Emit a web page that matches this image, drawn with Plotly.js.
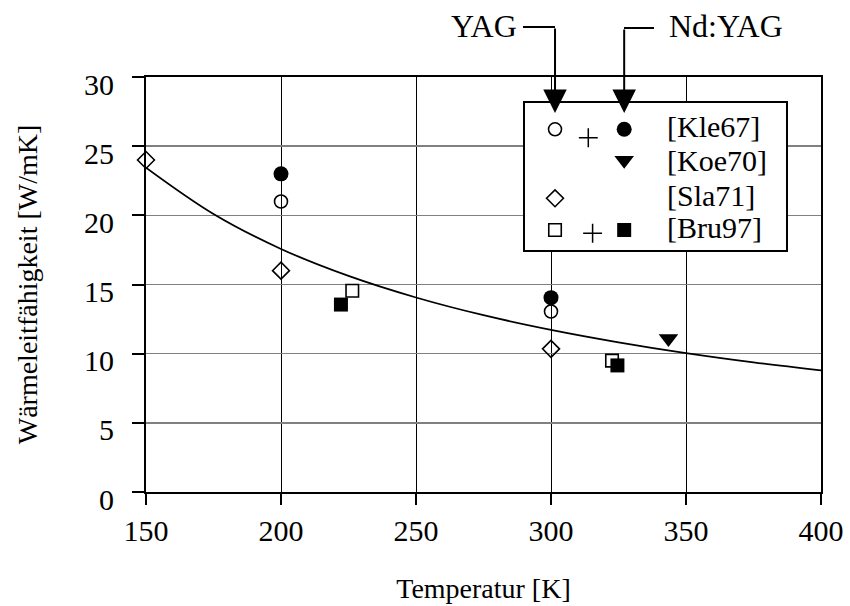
<!DOCTYPE html>
<html>
<head>
<meta charset="utf-8">
<script src="https://cdn.plot.ly/plotly-3.0.1.min.js"></script>
<style>html,body{margin:0;padding:0;background:#fff;}#chart{width:850px;height:606px;}</style>
</head>
<body>
<div id="chart"></div>
<script>
// ---- data ----
const kle67YagT = [200, 300];
const kle67YagK = [21.0, 13.05];
const kle67NdT = [200, 300];
const kle67NdK = [23.0, 14.05];
const koe70NdT = [343.5];
const koe70NdK = [11.1];
const sla71YagT = [150, 200, 300];
const sla71YagK = [24.0, 16.0, 10.35];
const bru97YagT = [226.4, 322.6];
const bru97YagK = [14.55, 9.5];
const bru97NdT = [222.2, 324.6];
const bru97NdK = [13.55, 9.15];
const fitT = [150, 175, 200, 225, 250, 275, 300, 325, 350, 375, 400];
const fitK = [23.45, 20.1, 17.57, 15.62, 14.06, 12.78, 11.72, 10.82, 10.04, 9.37, 8.79];

const xTicks = [150, 200, 250, 300, 350, 400];
const yTicks = [0, 5, 10, 15, 20, 25, 30];

const legendLabels = ['[Kle67]', '[Koe70]', '[Sla71]', '[Bru97]'];

// legend layout (box units 0..1)
const legColOpen = 0.115, legColFilled = 0.38, legColText = 0.536;
const legRowMarker = [0.821, 0.61, 0.352, 0.136];
const legRowText = [0.837, 0.612, 0.374, 0.156];
const legPlusX = [0.2425, 0.259];
const legPlusY = [0.764, 0.114];

const FONT = '"Liberation Serif", "Times New Roman", serif';
const BLK = '#000';

const traces = [
  {x: fitT, y: fitK, mode: 'lines', line: {color: BLK, width: 1.8, shape: 'spline'}, hoverinfo: 'skip'},
  {x: sla71YagT, y: sla71YagK, mode: 'markers', cliponaxis: false,
   marker: {symbol: 'diamond-open', size: 13, color: BLK, opacity: 1, line: {width: 1.6, color: BLK}}},
  {x: kle67YagT, y: kle67YagK, mode: 'markers', cliponaxis: false,
   marker: {symbol: 'circle-open', size: 13, color: BLK, opacity: 1, line: {width: 1.6, color: BLK}}},
  {x: kle67NdT, y: kle67NdK, mode: 'markers', cliponaxis: false,
   marker: {symbol: 'circle', size: 15, color: BLK, opacity: 1, line: {width: 0}}},
  {x: koe70NdT, y: koe70NdK, mode: 'markers', cliponaxis: false,
   marker: {symbol: 'triangle-down', size: 17, color: BLK, opacity: 1, line: {width: 0}}},
  {x: bru97YagT, y: bru97YagK, mode: 'markers', cliponaxis: false,
   marker: {symbol: 'square', size: 12.5, color: '#fff', opacity: 1, line: {width: 1.6, color: BLK}}},
  {x: bru97NdT, y: bru97NdK, mode: 'markers', cliponaxis: false,
   marker: {symbol: 'square', size: 14, color: BLK, opacity: 1, line: {width: 0}}},
  // legend symbols (inset box)
  {x: [legColOpen, legColOpen, legColOpen], y: [legRowMarker[0], legRowMarker[2], legRowMarker[3]],
   xaxis: 'x2', yaxis: 'y2', mode: 'markers', cliponaxis: false,
   marker: {symbol: ['circle-open', 'diamond-open', 'square-open'], size: [13, 13, 12.5], color: BLK,
            opacity: 1, line: {width: 1.6, color: BLK}}},
  {x: [legColFilled, legColFilled, legColFilled], y: [legRowMarker[0], legRowMarker[1], legRowMarker[3]],
   xaxis: 'x2', yaxis: 'y2', mode: 'markers', cliponaxis: false,
   marker: {symbol: ['circle', 'triangle-down', 'square'], size: [15, 17, 14], color: BLK,
            opacity: 1, line: {width: 0}}},
  {x: legPlusX, y: legPlusY, xaxis: 'x2', yaxis: 'y2', mode: 'markers', cliponaxis: false,
   marker: {symbol: 'cross-thin-open', size: 13.5, color: BLK, opacity: 1, line: {width: 1.5, color: BLK}}}
];

const annotations = legendLabels.map((t, i) => ({
  xref: 'x2', yref: 'y2', x: legColText, y: legRowText[i], text: t, showarrow: false,
  xanchor: 'left', yanchor: 'middle', font: {family: FONT, size: 30, color: BLK}
}));

// YAG / Nd:YAG labels with elbow arrows
const pxX = p => (p - 146) / 675;
const pxY = p => (492 - p) / 415;
annotations.push(
  {xref: 'paper', yref: 'paper', x: pxX(519), y: pxY(25.5), text: 'YAG', showarrow: false,
   xanchor: 'right', yanchor: 'middle', font: {family: FONT, size: 32, color: BLK}},
  {xref: 'paper', yref: 'paper', x: pxX(667), y: pxY(26.5), text: 'Nd:YAG', showarrow: false,
   xanchor: 'left', yanchor: 'middle', font: {family: FONT, size: 32, color: BLK}},
  {xref: 'x2', yref: 'y2', x: legColOpen, y: 0.932, text: '', showarrow: true,
   ax: 0, ay: -86, arrowhead: 2, arrowsize: 2.35, arrowwidth: 2, arrowcolor: BLK},
  {xref: 'x2', yref: 'y2', x: legColFilled, y: 0.932, text: '', showarrow: true,
   ax: 0, ay: -85, arrowhead: 2, arrowsize: 2.35, arrowwidth: 2, arrowcolor: BLK}
);

const shapes = [
  {type: 'line', xref: 'paper', yref: 'paper', x0: pxX(523), x1: pxX(555), y0: pxY(27), y1: pxY(27),
   line: {color: BLK, width: 2}},
  {type: 'line', xref: 'paper', yref: 'paper', x0: pxX(624), x1: pxX(654), y0: pxY(28), y1: pxY(28),
   line: {color: BLK, width: 2}}
];

const layout = {
  width: 850, height: 606,
  margin: {l: 146, r: 29, t: 77, b: 114, pad: 0},
  paper_bgcolor: '#fff', plot_bgcolor: '#fff',
  showlegend: false,
  font: {family: FONT, color: BLK, size: 30},
  xaxis: {
    range: [150, 400], tickvals: xTicks, ticktext: xTicks.map(String),
    showgrid: true, gridcolor: BLK, gridwidth: 1,
    showline: true, linecolor: BLK, linewidth: 2, mirror: true,
    ticks: 'outside', ticklen: 11, tickwidth: 2, tickcolor: BLK,
    ticklabelstandoff: 0,
    zeroline: false, automargin: false,
    tickfont: {family: FONT, size: 30, color: BLK},
    title: {text: 'Temperatur [K]', font: {family: FONT, size: 28, color: BLK}, standoff: 32}
  },
  yaxis: {
    range: [0, 30], tickvals: yTicks, ticktext: yTicks.map(String),
    showgrid: true, gridcolor: '#808080', gridwidth: 1.6,
    showline: true, linecolor: BLK, linewidth: 2, mirror: true,
    ticks: 'outside', ticklen: 12, tickwidth: 2, tickcolor: BLK,
    ticklabelstandoff: 12, ticklabelshift: 7,
    zeroline: false, automargin: false,
    tickfont: {family: FONT, size: 30, color: BLK},
    title: {text: 'Wärmeleitfähigkeit [W/mK]', font: {family: FONT, size: 28, color: BLK}, standoff: 38}
  },
  xaxis2: {domain: [(525 - 146) / 675, (786 - 146) / 675], anchor: 'y2', range: [0, 1],
    showgrid: false, zeroline: false, showticklabels: false, ticks: '',
    showline: true, linecolor: BLK, linewidth: 2, mirror: true, fixedrange: true},
  yaxis2: {domain: [(492 - 250) / 415, (492 - 103) / 415], anchor: 'x2', range: [0, 1],
    showgrid: false, zeroline: false, showticklabels: false, ticks: '',
    showline: true, linecolor: BLK, linewidth: 2, mirror: true, fixedrange: true},
  annotations: annotations,
  shapes: shapes
};

Plotly.newPlot('chart', traces, layout, {displayModeBar: false, staticPlot: true});
</script>
</body>
</html>
